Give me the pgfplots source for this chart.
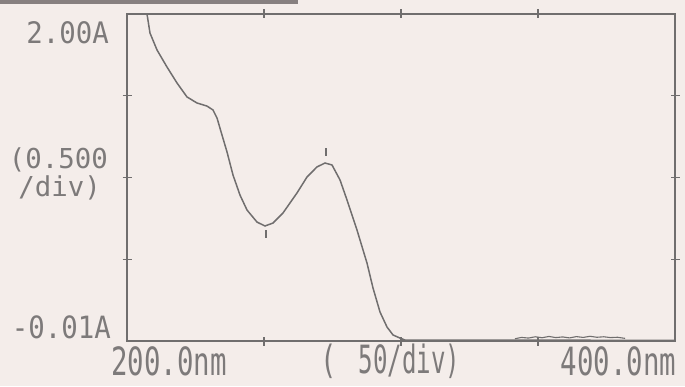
\documentclass[border=0pt]{standalone}
\usepackage{pgfplots}
\pgfplotsset{compat=1.18}
\usepackage{fontspec}
\newfontfamily\mono{DejaVu Sans Mono}
\definecolor{paper}{RGB}{244,237,234}
\definecolor{ink}{RGB}{112,110,110}
\definecolor{txt}{RGB}{125,122,122}
\definecolor{bar}{RGB}{135,128,128}
\begin{document}
\begin{tikzpicture}[x=1pt,y=1pt]
\fill[paper] (0,0) rectangle (685,386);
\useasboundingbox (0,0) rectangle (685,386);
\fill[bar] (0,382) rectangle (298,386);
\begin{axis}[
  at={(127pt,45pt)}, anchor=south west,
  scale only axis, width=548pt, height=327pt,
  xmin=200, xmax=400, ymin=-0.01, ymax=2.00,
  axis line style={ink, line width=1.4pt},
  xtick={250,300,350}, ytick={0.4925,0.995,1.4975},
  xticklabels={}, yticklabels={},
  tick align=center, major tick length=9pt,
  tick style={ink, line width=1.3pt},
  axis background/.style={fill=paper},
  clip=false,
]
\addplot[ink, line width=1.5pt] coordinates {
(207.30,2.000) (208.39,1.883) (210.95,1.779) (214.60,1.674) (218.25,1.576)
(221.90,1.490) (225.55,1.453) (229.20,1.434) (231.39,1.410) (232.85,1.361)
(234.67,1.256) (236.50,1.152) (238.69,1.010) (241.24,0.887) (243.80,0.795)
(247.45,0.721) (250.36,0.697) (253.28,0.715) (256.93,0.777) (262.04,0.900)
(265.69,0.998) (269.34,1.060) (272.26,1.084) (274.82,1.072) (277.74,0.980)
(280.29,0.857) (283.94,0.672) (287.59,0.469) (289.78,0.316) (292.34,0.168)
(294.89,0.076) (297.08,0.027) (299.64,0.008) (301.46,-0.004) (400,-0.006)
};
\addplot[ink, line width=1.1pt] coordinates {
(341.6,0.004) (344.0,0.012) (346.5,0.008) (349.0,0.016) (351.5,0.010)
(354.0,0.018) (356.5,0.011) (359.0,0.015) (361.5,0.009) (364.0,0.017)
(366.5,0.012) (369.0,0.019) (371.5,0.013) (374.0,0.016) (376.5,0.011)
(379.0,0.013) (381.8,0.006)
};
\addplot[ink, line width=1.3pt] coordinates {(250.7,0.672) (250.7,0.623)};
\addplot[ink, line width=1.3pt] coordinates {(272.6,1.176) (272.6,1.127)};
\end{axis}
\begin{scope}[every node/.style={text=txt, inner sep=0pt, font=\mono\fontsize{27.4}{30}\selectfont}]
\node[anchor=east] at (109,353.5) {\scalebox{1}[1.08]{2.00A}};
\node[anchor=east] at (108,226) {\scalebox{1}[1.0]{(0.500}};
\node[anchor=east] at (101,198) {\scalebox{1}[1.0]{/div)}};
\node[anchor=east] at (111,59) {\scalebox{1}[1.12]{-0.01A}};
\node at (169,24.5) {\scalebox{1}[1.42]{200.0nm}};
\node at (328.5,24.5) {\scalebox{1}[1.42]{(}};
\node at (409.5,24.5) {\scalebox{0.88}[1.42]{50/div)}};
\node at (618.5,24.5) {\scalebox{1}[1.42]{400.0nm}};
\end{scope}
\end{tikzpicture}
\end{document}
